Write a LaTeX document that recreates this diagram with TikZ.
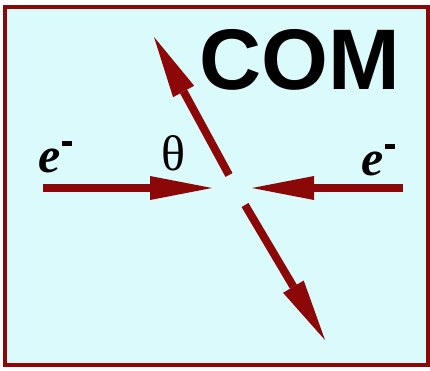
\documentclass[tikz,border=0pt]{standalone}
\usepackage{fontspec}
\setmainfont{Liberation Serif}
\newfontfamily\comfont{Liberation Sans}
\usetikzlibrary{arrows.meta, positioning}

\definecolor{comred}{RGB}{140,8,8}
\definecolor{combg}{RGB}{218,250,252}

\newcommand{\emark}{e\hspace{2pt}\raisebox{26pt}{\rule{10pt}{5pt}}}

\begin{document}
\begin{tikzpicture}[
  x=1pt, y=-1pt,
  track/.style={draw=comred, line width=8pt,
                -{Triangle[length=62pt, width=24pt, line width=0pt]}},
  elabel/.style={font=\fontsize{50}{50}\selectfont\bfseries\itshape,
                 inner sep=0pt, anchor=base west},
]

% frame
\useasboundingbox (0,0) rectangle (430,370);
\fill[white] (0,0) rectangle (430,370);
\draw[draw=comred, fill=combg, line width=4.5pt] (5,7) rectangle (428,365);

% title
\node[font=\comfont\bfseries\fontsize{86}{86}\selectfont, inner sep=0pt]
  (com) at (300,60) {COM};

% beam and scattering end points
\coordinate (lin)  at (43,188);
\coordinate (lhit) at (212,188);
\coordinate (rin)  at (403,188);
\coordinate (rhit) at (252,188);
\coordinate (uout) at (229,175);
\coordinate (uend) at (154,37);
\coordinate (dout) at (245,205);
\coordinate (dend) at (325,340);

% labels
\node[elabel] (eleft)  at (38,172)  {\emark};
\node[elabel] (eright) at (361,175) {\emark};
\node[font=\fontsize{50}{50}\selectfont, inner sep=0pt] (theta) at (173,153) {θ};

% arrows
\draw[track] (lin)  -- (lhit);
\draw[track] (rin)  -- (rhit);
\draw[track] (uout) -- (uend);
\draw[track] (dout) -- (dend);

\end{tikzpicture}
\end{document}
